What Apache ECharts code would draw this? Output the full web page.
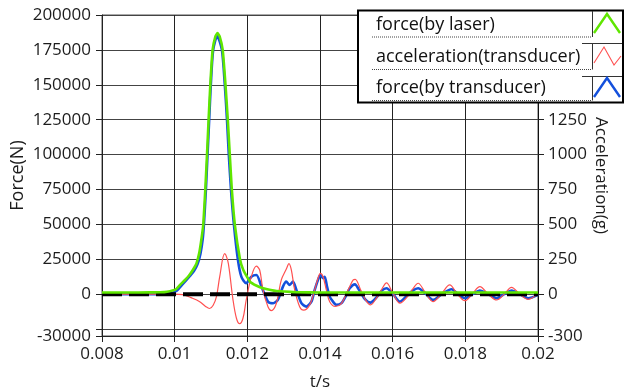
<!DOCTYPE html>
<html>
<head>
<meta charset="utf-8">
<script src="https://cdn.jsdelivr.net/npm/echarts@6/dist/echarts.min.js"></script>
<style>
  html, body { margin: 0; padding: 0; background: #fff; }
  #chart { width: 633px; height: 392px; }
</style>
</head>
<body>
<div id="chart"></div>
<script>
// Series names, in legend order
const seriesNames = ['force(by laser)', 'acceleration(transducer)', 'force(by transducer)'];

// force(by laser): time (s) and force (N)
const laserT = [0.0080, 0.0090, 0.0096, 0.00979, 0.01004, 0.01015, 0.01030, 0.01040, 0.01050, 0.01060,
  0.01068, 0.01074, 0.010788, 0.010843, 0.01089, 0.010934, 0.010981, 0.011044, 0.01112, 0.011179,
  0.01124, 0.011322, 0.011399, 0.011462, 0.011517, 0.011573, 0.011655, 0.011798, 0.011889, 0.012073,
  0.012258, 0.01244, 0.012808, 0.013359, 0.0140, 0.0200];
const laserF = [1200, 1200, 1300, 1700, 3600, 6600, 10500, 13500, 17300, 22000,
  30000, 40000, 50000, 75000, 100000, 125000, 150000, 175000, 184500, 187000,
  184500, 175000, 150000, 125000, 100000, 75000, 50000, 25000, 17300, 9000,
  6000, 4200, 2200, 1400, 1200, 1200];

// acceleration(transducer): time (s) and acceleration (g)
const accelT = [0.0080, 0.0100, 0.01022, 0.01045, 0.01069, 0.01085, 0.01096, 0.01106, 0.01115, 0.01124,
  0.011375, 0.01146, 0.01151, 0.01160, 0.01170, 0.011788, 0.01188, 0.01197, 0.01211, 0.012248,
  0.01234, 0.01243, 0.012568, 0.01266, 0.0128, 0.012935, 0.013073, 0.013146, 0.013211, 0.013303,
  0.01344, 0.01355, 0.013716, 0.013854, 0.013945, 0.01401, 0.014083, 0.014174, 0.014267, 0.01442,
  0.01458, 0.014772, 0.014909, 0.01497, 0.01512, 0.01525, 0.01539, 0.01555, 0.01570, 0.01583,
  0.01600, 0.01620, 0.01640, 0.01655, 0.01670, 0.01690, 0.01711, 0.01735, 0.01757, 0.01777,
  0.01799, 0.01820, 0.01840, 0.01863, 0.01886, 0.01907, 0.01927, 0.01950, 0.01973, 0.02000];
const accelG = [0, 0, -3, -25, -54, -88, -103, -80, -18, 125,
  290, 240, 161, -30, -173, -212, -173, -42, 125, 200,
  173, 30, -90, -118, -65, 102, 180, 218, 173, 30,
  -90, -115, -77, 30, 114, 148, 125, 30, -54, -88,
  -70, 30, 100, 106, 30, -40, -77, -30, 35, 80,
  10, -65, -20, 35, 78, 10, -54, 5, 66, 5,
  -47, 5, 54, 0, -42, 0, 49, 0, -37, 5];

// force(by transducer): time (s) and force (N)
const transT = [0.0080, 0.0098, 0.01006, 0.01018, 0.01032, 0.01042, 0.01053, 0.01063, 0.01071, 0.01077,
  0.010805, 0.01086, 0.010905, 0.01095, 0.010995, 0.01106, 0.01117, 0.01130, 0.01138, 0.01144,
  0.01149, 0.01155, 0.01163, 0.011741, 0.011835, 0.01197, 0.01211, 0.01225, 0.01239, 0.01257,
  0.01271, 0.01284, 0.01298, 0.01307, 0.013165, 0.013256, 0.01335, 0.013488, 0.013625, 0.013763,
  0.013854, 0.013945, 0.01401, 0.014083, 0.01413, 0.014193, 0.014267, 0.014358, 0.014452, 0.01459,
  0.014727, 0.014818, 0.01496, 0.01510, 0.01525, 0.015388, 0.01555, 0.01570, 0.01583, 0.01600,
  0.016196, 0.01640, 0.01655, 0.01670, 0.01690, 0.017113, 0.01735, 0.01762, 0.01780, 0.017986,
  0.01820, 0.01840, 0.01863, 0.01886, 0.01907, 0.019273, 0.01950, 0.01973, 0.02000];
const transF = [0, 0, 2500, 6000, 10000, 13000, 16500, 21500, 29000, 39000,
  50000, 75000, 100000, 125000, 150000, 175000, 185000, 175000, 150000, 125000,
  100000, 75000, 50000, 24500, 12500, 7800, 12500, 13750, 5400, -5400,
  -6500, -4150, 5400, 8950, 6600, 8950, 3000, -6500, -8950, -5400,
  3000, 10200, 13750, 11400, 12500, 5400, -1800, -5400, -7700, -6500,
  -570, 4200, 7000, 2000, -4000, -6100, -2500, 2500, 4200, 500,
  -5400, -1000, 2500, 4200, 500, -4150, 0, 3500, 0, -2950,
  0, 2500, 0, -2950, 0, 2500, 0, -2950, -500];

// zero reference line
const zeroT = [0.008, 0.020];
const zeroV = [0, 0];

// axis ticks and labels
const forceTickValues = [-30000, -25000, 0, 25000, 50000, 75000, 100000, 125000, 150000, 175000, 200000];
const forceLabelValues = [-30000, 0, 25000, 50000, 75000, 100000, 125000, 150000, 175000, 200000];
const accelTickValues = [-300, -250, 0, 250, 500, 750, 1000, 1250, 1500, 1750, 2000];
const accelLabelValues = [-300, 0, 250, 500, 750, 1000, 1250];

const zip = (xs, ys) => xs.map((x, i) => [x, ys[i]]);

const FONT = '"Open Sans", "Noto Sans", sans-serif';
const INK = '#1c1c1c';
const GREEN = '#5fe600';
const RED = '#ff5050';
const BLUE = '#1450dc';

const chart = echarts.init(document.getElementById('chart'), null, { renderer: 'canvas' });

// legend panel: label rows with dotted underline and a sample glyph
const rowCenters = [25, 57, 88];
const rowTops = [11, 43, 76];
const rowBottoms = [37, 69.5, 100.5];
const glyphs = [
  { pts: [[594, 33], [607, 14], [620, 33]], color: GREEN, w: 2.4 },
  { pts: [[594, 63], [604, 47], [614, 65], [621, 56]], color: RED, w: 1.1 },
  { pts: [[594, 97], [607, 78], [620, 97]], color: BLUE, w: 2.4 }
];
const legendEls = [{
  type: 'rect', z: 100,
  shape: { x: 358, y: 10.5, width: 265, height: 92 },
  style: { fill: '#fff', stroke: '#000', lineWidth: 2 }
}];
seriesNames.forEach((name, i) => {
  legendEls.push({
    type: 'text', z: 101, x: 376, y: rowCenters[i],
    style: { text: name, font: '18px ' + FONT, fill: '#111', verticalAlign: 'middle' }
  });
  legendEls.push({
    type: 'line', z: 101,
    shape: { x1: 372, y1: rowBottoms[i], x2: 592, y2: rowBottoms[i] },
    style: { stroke: '#444', lineWidth: 1, lineDash: [1, 1] }
  });
  if (i > 0) {
    legendEls.push({
      type: 'line', z: 101,
      shape: { x1: 582, y1: rowTops[i] + 0.5, x2: 622, y2: rowTops[i] + 0.5 },
      style: { stroke: '#333', lineWidth: 1 }
    });
  }
  legendEls.push({
    type: 'line', z: 101,
    shape: { x1: 592.5, y1: rowTops[i], x2: 592.5, y2: rowBottoms[i] },
    style: { stroke: '#333', lineWidth: 1 }
  });
  legendEls.push({
    type: 'polyline', z: 102,
    shape: { points: glyphs[i].pts },
    style: { stroke: glyphs[i].color, lineWidth: glyphs[i].w, fill: null }
  });
});

const labelStyle = { color: INK, fontFamily: FONT, fontSize: 17 };

chart.setOption({
  animation: false,
  backgroundColor: '#fff',
  grid: {
    left: 102, right: 95, top: 15, bottom: 56,
    outerBoundsMode: 'none', containLabel: false,
    show: true, borderColor: '#555', borderWidth: 1, backgroundColor: '#fff'
  },
  xAxis: {
    type: 'value', min: 0.008, max: 0.02, interval: 0.002,
    name: 't/s', nameLocation: 'middle', nameGap: 38, nameMoveOverlap: false,
    nameTextStyle: { color: INK, fontFamily: FONT, fontSize: 17 },
    axisLine: { show: true, onZero: false, lineStyle: { color: '#222', width: 1 } },
    axisTick: { show: true, length: 6, lineStyle: { color: '#222' } },
    axisLabel: Object.assign({ margin: 10, formatter: v => String(+v.toFixed(3)) }, labelStyle),
    splitLine: { show: true, lineStyle: { color: '#222', width: 1 } }
  },
  yAxis: [{
    type: 'value', position: 'left', min: -30000, max: 200000,
    name: 'Force(N)', nameLocation: 'middle', nameGap: 75, nameRotate: 90, nameMoveOverlap: false,
    nameTextStyle: { color: INK, fontFamily: FONT, fontSize: 18 },
    axisLine: { show: true, lineStyle: { color: '#222', width: 1 } },
    axisTick: { show: true, length: 6, customValues: forceTickValues, lineStyle: { color: '#222' } },
    axisLabel: Object.assign({ margin: 11, customValues: forceLabelValues, formatter: v => String(v) }, labelStyle),
    splitLine: { show: true, lineStyle: { color: '#444', width: 1 } }
  }, {
    type: 'value', position: 'right', min: -300, max: 2000,
    name: 'Acceleration(g)', nameLocation: 'middle', nameGap: 54, nameRotate: -90, nameMoveOverlap: false,
    nameTextStyle: { color: INK, fontFamily: FONT, fontSize: 17 },
    axisLine: { show: true, lineStyle: { color: '#111', width: 1 } },
    axisTick: { show: true, length: 6, customValues: accelTickValues, lineStyle: { color: '#222' } },
    axisLabel: Object.assign({ margin: 10, customValues: accelLabelValues, formatter: v => String(v) }, labelStyle),
    splitLine: { show: false }
  }],
  series: [{
    name: seriesNames[2], type: 'line', yAxisIndex: 0, z: 2,
    data: zip(transT, transF), showSymbol: false, smooth: 0.25,
    lineStyle: { color: BLUE, width: 2.6 }
  }, {
    name: seriesNames[1], type: 'line', yAxisIndex: 1, z: 3,
    data: zip(accelT, accelG), showSymbol: false, smooth: 0.35,
    lineStyle: { color: RED, width: 1.2 }
  }, {
    name: 'zero', type: 'line', yAxisIndex: 0, z: 4, silent: true,
    data: zip(zeroT, zeroV), showSymbol: false,
    lineStyle: { color: '#000', width: 4, type: [20, 7] }
  }, {
    name: seriesNames[0], type: 'line', yAxisIndex: 0, z: 5,
    data: zip(laserT, laserF), showSymbol: false, smooth: 0.15,
    lineStyle: { color: GREEN, width: 2.6 }
  }],
  graphic: legendEls
});
</script>
</body>
</html>
